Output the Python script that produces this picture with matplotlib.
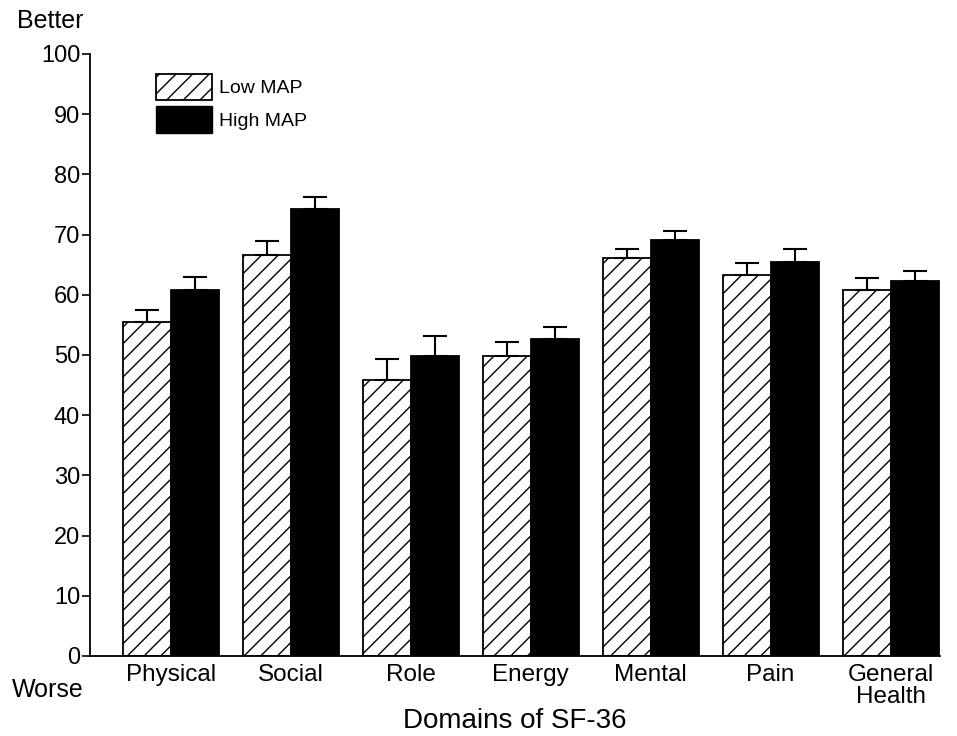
import matplotlib
matplotlib.use("Agg")
import matplotlib.pyplot as plt
import numpy as np
from matplotlib.patches import Patch

plt.rcParams['font.family'] = ['Liberation Sans', 'DejaVu Sans']
plt.rcParams['hatch.linewidth'] = 1.0

categories = ["Physical", "Social", "Role", "Energy", "Mental", "Pain", "General\nHealth"]
low_map = [55.5, 66.6, 45.8, 49.8, 66.1, 63.3, 60.8]
low_err = [2.0, 2.4, 3.5, 2.3, 1.5, 2.0, 2.0]
high_map = [60.8, 74.2, 49.8, 52.7, 69.1, 65.5, 62.3]
high_err = [2.2, 2.1, 3.4, 1.9, 1.5, 2.1, 1.7]
yticks = list(range(0, 101, 10))

fig = plt.figure(figsize=(9.57, 7.36), dpi=100)
ax = fig.add_axes([0.094, 0.1087, 0.888, 0.818])

x = np.arange(len(categories))
w = 0.4
ekw = dict(elinewidth=1.5, capthick=1.5, ecolor='black')
ax.bar(x - w/2, low_map, w, color='white', edgecolor='black', hatch='//', linewidth=1.3,
       yerr=[np.zeros(len(low_err)), low_err], capsize=8.5, error_kw=ekw, label='Low MAP')
ax.bar(x + w/2, high_map, w, color='black', edgecolor='black', linewidth=1.3,
       yerr=[np.zeros(len(high_err)), high_err], capsize=8.5, error_kw=ekw, label='High MAP')

ax.set_xlim(-0.675, 6.41)
ax.set_ylim(0, 100)
ax.set_yticks(yticks)
ax.set_yticklabels([str(t) for t in yticks], fontsize=17)
ax.set_xticks(x)
ax.set_xticklabels(categories, fontsize=17.5, linespacing=1.0)
ax.tick_params(axis='x', length=0, pad=6)
ax.tick_params(axis='y', length=6, width=1.2, direction='out', pad=1)
for s in ['top', 'right']:
    ax.spines[s].set_visible(False)
for s in ['left', 'bottom']:
    ax.spines[s].set_linewidth(1.3)
ax.set_xlabel("Domains of SF-36", fontsize=20, labelpad=0)

handles = [Patch(facecolor='white', edgecolor='black', hatch='//', linewidth=1.3),
           Patch(facecolor='black', edgecolor='black')]
ax.legend(handles, ['Low MAP', 'High MAP'], loc='upper left', bbox_to_anchor=(0.062, 0.99),
          frameon=False, fontsize=14, handlelength=2.85, handleheight=1.75, labelspacing=0.3,
          handletextpad=0.4, borderpad=0.2)

fig.text(0.018, 0.988, "Better", fontsize=18, va='top', ha='left')
fig.text(0.012, 0.063, "Worse", fontsize=18, va='center', ha='left')

fig.savefig("out.png", dpi=100)
